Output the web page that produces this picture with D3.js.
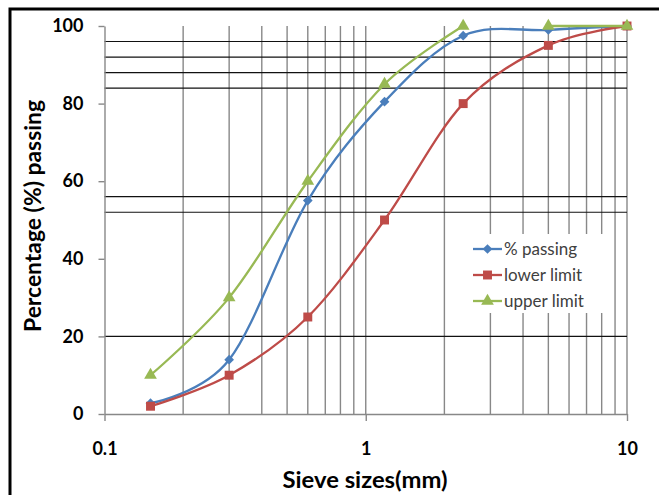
<!DOCTYPE html>
<html>
<head>
<meta charset="utf-8">
<script src="https://cdn.jsdelivr.net/npm/d3@7"></script>
<style>
  body { margin: 0; background: #fff; }
  svg { display: block; font-family: Lato, "Open Sans", sans-serif; }
</style>
</head>
<body>
<div id="chart"></div>
<script>
// sieve sizes (mm) and % passing for each curve
const sieve = [0.15, 0.3, 0.6, 1.18, 2.36, 5, 10];
const passing = [2.8, 14, 55, 80.5, 97.5, 99, 100];
const lower = [2, 10, 25, 50, 80, 95, 100];
const upper = [10, 30, 60, 85, 100, 100, 100];
// upper limit curve is broken between 2.36 and 5
const upperBreak = 5;

const yTicks = [0, 20, 40, 60, 80, 100];
const xTicks = [0.1, 1, 10];
const hLines = [96, 92, 88, 84, 56, 52, 20];
const vLines = [0.2, 0.3, 0.4, 0.5, 0.6, 0.7, 0.8, 0.9, 1, 2, 3, 4, 5, 6, 7, 8, 9, 10];
const seriesNames = ['% passing', 'lower limit', 'upper limit'];

const W = 659, H = 495;
const Blue = '#4a7ebb', Red = '#be4b48', Green = '#98b954';

const svg = d3.select('#chart').append('svg')
    .attr('width', W)
    .attr('height', H);

// outer frame (only top and left edges are inside the picture)
svg.append('rect')
    .attr('x', 10).attr('y', 9)
    .attr('width', 800).attr('height', 600)
    .attr('fill', 'none')
    .attr('stroke', '#000')
    .attr('stroke-width', 3);

const x = d3.scaleLog().domain([0.1, 10]).range([104.5, 627]);
const y = d3.scaleLinear().domain([0, 100]).range([414, 26]);

// vertical grid
svg.append('g').selectAll('line')
    .data(vLines)
    .join('line')
    .attr('x1', d => x(d)).attr('x2', d => x(d))
    .attr('y1', y(100)).attr('y2', y(0))
    .attr('stroke', '#888')
    .attr('stroke-width', 1.4);

// horizontal lines
svg.append('g').selectAll('line')
    .data(hLines)
    .join('line')
    .attr('x1', x(0.1)).attr('x2', x(10))
    .attr('y1', d => y(d)).attr('y2', d => y(d))
    .attr('stroke', '#111')
    .attr('stroke-width', 1.2);

// axes
const yAxis = svg.append('g')
    .attr('transform', `translate(${x(0.1)},0)`)
    .call(d3.axisLeft(y).tickValues(yTicks).tickSize(6).tickPadding(15).tickSizeOuter(0));
const xAxis = svg.append('g')
    .attr('transform', `translate(0,${y(0)})`)
    .call(d3.axisBottom(x).tickValues(xTicks).tickFormat(d3.format('')).tickSize(7).tickPadding(21).tickSizeOuter(0));

[yAxis, xAxis].forEach(ax => {
    ax.select('.domain').attr('stroke', '#888').attr('stroke-width', 1.4);
    ax.selectAll('.tick line').attr('stroke', '#888').attr('stroke-width', 1.4);
    ax.selectAll('.tick text')
        .attr('fill', '#000')
        .style('font-size', '18px')
        .style('font-weight', 'bold')
        .style('font-family', 'Lato, sans-serif');
});

// legend box covers the grid
const legX = 468, legY = 234;
svg.append('rect')
    .attr('x', legX).attr('y', legY)
    .attr('width', 142).attr('height', 79)
    .attr('fill', '#fff');

const line = d3.line()
    .x(d => x(d[0]))
    .y(d => y(d[1]))
    .curve(d3.curveCardinal.tension(0));

const pts = vals => sieve.map((s, i) => [s, vals[i]]);

const symbols = [
    d3.symbol().type(d3.symbolDiamond2).size(60),
    d3.symbol().type(d3.symbolSquare).size(80),
    d3.symbol().type(d3.symbolTriangle).size(70)
];

const series = [
    { name: seriesNames[0], color: Blue, segs: [pts(passing)], sym: symbols[0] },
    { name: seriesNames[1], color: Red, segs: [pts(lower)], sym: symbols[1] },
    { name: seriesNames[2], color: Green,
      segs: [pts(upper).slice(0, upperBreak), pts(upper).slice(upperBreak)], sym: symbols[2] }
];

series.forEach(s => {
    const g = svg.append('g');
    s.segs.forEach(seg => {
        g.append('path')
            .attr('d', line(seg))
            .attr('fill', 'none')
            .attr('stroke', s.color)
            .attr('stroke-width', 2.3);
    });
    g.selectAll('path.pt')
        .data(s.segs.flat())
        .join('path')
        .attr('class', 'pt')
        .attr('d', s.sym)
        .attr('transform', d => `translate(${x(d[0])},${y(d[1])})`)
        .attr('fill', s.color);
});

// legend entries
const leg = svg.append('g')
    .attr('transform', `translate(${legX},${legY})`)
    .selectAll('g')
    .data(series)
    .join('g')
    .attr('transform', (d, i) => `translate(0,${15 + i * 26})`);
leg.append('line')
    .attr('x1', 5).attr('x2', 34)
    .attr('stroke', d => d.color)
    .attr('stroke-width', 2.3);
leg.append('path')
    .attr('d', d => d.sym())
    .attr('transform', 'translate(19.5,0)')
    .attr('fill', d => d.color);
leg.append('text')
    .attr('x', 36)
    .attr('dy', '0.35em')
    .style('font-size', '17px')
    .attr('fill', '#404040')
    .text(d => d.name);

// axis titles
svg.append('text')
    .attr('transform', `translate(33,${(y(0) + y(100)) / 2 - 4}) rotate(-90)`)
    .attr('text-anchor', 'middle')
    .attr('dy', '0.35em')
    .attr('textLength', 232)
    .attr('lengthAdjust', 'spacingAndGlyphs')
    .style('font-size', '22px')
    .style('font-weight', 'bold')
    .text('Percentage (%) passing');

svg.append('text')
    .attr('x', 365)
    .attr('y', 480)
    .attr('text-anchor', 'middle')
    .attr('dy', '0.35em')
    .attr('textLength', 165)
    .attr('lengthAdjust', 'spacingAndGlyphs')
    .style('font-size', '22px')
    .style('font-weight', 'bold')
    .text('Sieve sizes(mm)');
</script>
</body>
</html>
